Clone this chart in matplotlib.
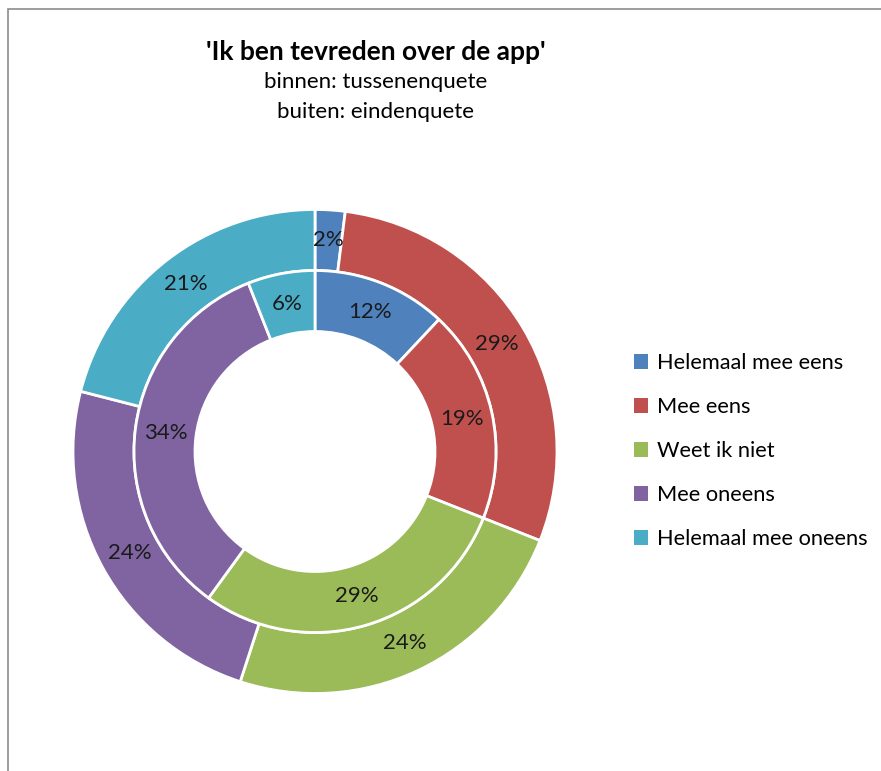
import matplotlib.pyplot as plt
from matplotlib.patches import Rectangle, Patch

categories = ['Helemaal mee eens', 'Mee eens', 'Weet ik niet', 'Mee oneens', 'Helemaal mee oneens']
inner_values = [12, 19, 29, 34, 6]   # binnen: tussenenquete
outer_values = [2, 29, 24, 24, 21]   # buiten: eindenquete
colors = ['#4F81BD', '#C0504D', '#9BBB59', '#8064A2', '#4BACC6']

plt.rcParams['font.family'] = ['Lato', 'DejaVu Sans']

W, H = 881, 771
fig = plt.figure(figsize=(W / 100, H / 100), dpi=100)

# chart area border (cut off at right and bottom)
fig.patches.append(Rectangle((8 / W, -0.1), 1.2, 1 - 9 / H + 0.1, transform=fig.transFigure,
                             fill=False, edgecolor='#8c8c8c', linewidth=1.2))

# donut centred at (315, 451.5) px, outer radius 242 px
cx, cy, R = 315, 451.5, 242
ax = fig.add_axes([(cx - R) / W, (H - cy - R) / H, 2 * R / W, 2 * R / H])

ring = 61 / R
inner_r = 1 - ring
wp = dict(width=ring, edgecolor='white', linewidth=2)
tp = dict(fontsize=16, color='#1a1a1a')

ax.pie(outer_values, radius=1, colors=colors, startangle=90, counterclock=False,
       wedgeprops=wp, autopct=lambda p: f'{round(p)}%', pctdistance=1 - ring / 2,
       textprops=tp)
ax.pie(inner_values, radius=inner_r, colors=colors, startangle=90, counterclock=False,
       wedgeprops=wp, autopct=lambda p: f'{round(p)}%', pctdistance=(inner_r - ring / 2) / inner_r,
       textprops=tp)
ax.set_xlim(-1, 1)
ax.set_ylim(-1, 1)
ax.set_aspect('equal')

tx = 375.5 / W
fig.text(tx, 1 - 60 / H, "'Ik ben tevreden over de app'", ha='center', va='baseline',
         fontsize=19, fontweight='bold')
fig.text(tx, 1 - 88 / H, 'binnen: tussenenquete', ha='center', va='baseline', fontsize=16)
fig.text(tx, 1 - 118 / H, 'buiten: eindenquete', ha='center', va='baseline', fontsize=16)

handles = [Patch(facecolor=c) for c in colors]
fig.legend(handles, categories, loc='center left', bbox_to_anchor=(625 / W, 1 - 451 / H),
           frameon=False, fontsize=15.7, handlelength=0.65, handleheight=0.65,
           handletextpad=0.4, labelspacing=1.1, borderaxespad=0)

fig.savefig('out.png', dpi=100)
